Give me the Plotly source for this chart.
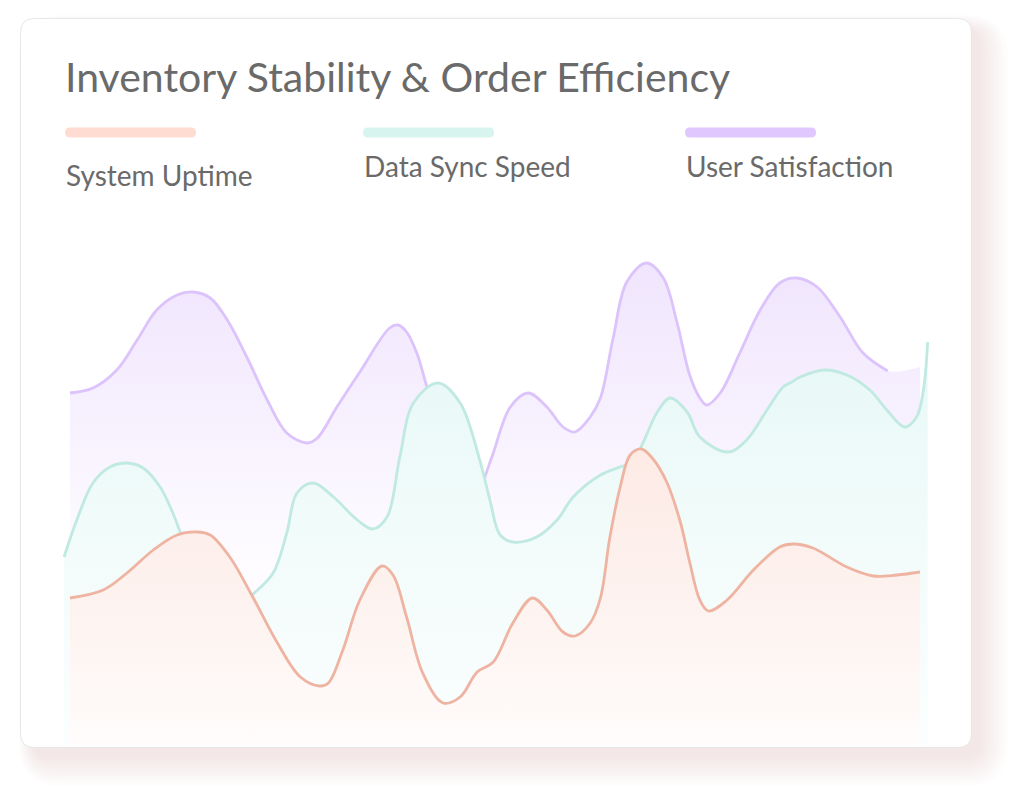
import plotly.graph_objects as go

W, H = 1015, 792

# ---------------- data ----------------
title_text = "Inventory Stability & Order Efficiency"
series_names = ["System Uptime", "Data Sync Speed", "User Satisfaction"]

uptime_x = [0, 3.9, 6.7, 9.8, 12.6, 14.9, 16.5, 18.8, 21.5, 24.4, 27.1, 29.4, 30.4, 32.1, 34.1,
            36.7, 38.0, 39.6, 41.5, 43.9, 45.9, 47.9, 49.8, 52.1, 54.4, 56.1, 58.0, 59.4, 61.2,
            62.4, 63.5, 64.7, 65.9, 67.2, 68.5, 70.2, 71.8, 72.9, 74.1, 75.1, 77.3, 80.4, 83.5,
            85.1, 87.4, 91.4, 94.5, 97.3, 100]
uptime_y = [29.4, 31.0, 34.4, 39.0, 42.0, 42.6, 42.0, 37.6, 29.6, 20.4, 13.6, 11.8, 12.4, 19.0, 29.0,
            35.8, 34.0, 25.6, 14.4, 8.4, 9.6, 14.6, 16.6, 24.4, 29.4, 27.0, 22.6, 21.8, 24.4,
            29.4, 41.4, 51.4, 58.0, 59.2, 57.4, 52.6, 44.6, 36.6, 29.0, 26.8, 29.0, 35.0, 39.6,
            40.2, 39.4, 35.6, 33.8, 34.0, 34.6]

sync_x = [-0.7, 0.8, 2.7, 4.7, 6.7, 8.6, 10.6, 12.1, 13.2, 15.3, 17.6, 19.8, 21.8, 23.9, 25.5,
          26.7, 28.6, 31.0, 33.8, 35.6, 37.3, 38.8, 40.4, 43.3, 45.9, 48.2, 49.4, 50.6, 52.1,
          54.9, 57.3, 59.2, 62.4, 64.7, 66.2, 67.4, 69.1, 70.6, 72.6, 74.1, 77.4, 79.6, 82.0,
          83.9, 84.9, 85.9, 88.8, 91.4, 94.1, 96.1, 98.2, 99.6, 100.4, 100.9]
sync_y = [37.6, 45.0, 52.4, 55.6, 56.4, 55.4, 51.6, 46.4, 41.6, 34.0, 29.0, 28.0, 30.6, 34.4, 42.4,
          50.4, 52.4, 49.6, 45.0, 43.2, 45.6, 57.6, 68.4, 72.4, 68.4, 57.0, 49.0, 42.0, 40.6,
          41.6, 45.0, 49.6, 54.0, 55.6, 56.6, 60.4, 66.6, 69.4, 66.6, 61.6, 58.6, 61.0, 67.0,
          71.6, 72.6, 73.6, 75.0, 74.0, 71.0, 67.0, 63.6, 65.6, 71.0, 80.6]

satis_x = [0, 2.7, 5.5, 7.9, 10.2, 12.6, 14.5, 16.5, 18.5, 20.8, 23.2, 25.5, 27.9, 29.1, 31.4,
           34.1, 37.6, 38.6, 39.6, 40.8, 42.0, 44.1, 46.5, 48.0, 48.8, 49.8, 51.8, 53.9, 56.1,
           58.0, 59.4, 61.2, 62.4, 63.9, 65.5, 67.8, 69.8, 71.4, 72.9, 74.1, 74.9, 76.5, 78.8,
           81.2, 83.5, 85.5, 87.9, 90.6, 93.3, 96.2, 100]
satis_y = [70.4, 71.4, 75.0, 81.0, 87.0, 90.0, 90.6, 89.4, 85.0, 77.6, 69.0, 62.4, 60.4, 61.4, 67.6,
           74.6, 83.4, 84.0, 82.6, 78.4, 71.6, 61.0, 51.0, 50.0, 53.6, 58.4, 67.6, 70.4, 67.6,
           63.6, 62.6, 65.6, 69.4, 81.4, 92.6, 96.4, 93.4, 84.6, 74.0, 69.4, 68.0, 70.4, 78.4,
           87.0, 92.4, 93.4, 91.6, 85.6, 78.4, 74.8, 75.6]

line_colors = ["#efb3a1", "#bfe9e1", "#dcc3fb"]
swatch_colors = ["#ffdcd2", "#d8f4ef", "#e0c7fd"]
fill_scales = [
    [[0, "#fffcfb"], [0.45, "#fdf3f0"], [1, "#fdeae5"]],
    [[0, "#fafefe"], [0.45, "#f3fcfb"], [1, "#e7f8f6"]],
    [[0, "#ffffff"], [0.4, "#fdfbff"], [1, "#f0e5fd"]],
]

# ---------------- helpers ----------------
def px(x):
    return x / W

def py(y):
    return 1 - y / H

def rrect(x0, y0, x1, y1, r):
    pts = [
        f"M {px(x0 + r)},{py(y0)}",
        f"L {px(x1 - r)},{py(y0)}",
        f"Q {px(x1)},{py(y0)} {px(x1)},{py(y0 + r)}",
        f"L {px(x1)},{py(y1 - r)}",
        f"Q {px(x1)},{py(y1)} {px(x1 - r)},{py(y1)}",
        f"L {px(x0 + r)},{py(y1)}",
        f"Q {px(x0)},{py(y1)} {px(x0)},{py(y1 - r)}",
        f"L {px(x0)},{py(y0 + r)}",
        f"Q {px(x0)},{py(y0)} {px(x0 + r)},{py(y0)}",
        "Z",
    ]
    return " ".join(pts)

fig = go.Figure()

datasets = [
    (uptime_x, uptime_y),
    (sync_x, sync_y),
    (satis_x, satis_y),
]

# draw order: satisfaction (back), sync, uptime (front)
for idx in [2, 1, 0]:
    xs, ys = datasets[idx]
    fig.add_trace(go.Scatter(
        x=xs, y=ys, mode="lines", fill="tozeroy",
        line=dict(width=0, shape="spline", smoothing=1, color=line_colors[idx]),
        fillgradient=dict(type="vertical", colorscale=fill_scales[idx], start=0, stop=max(ys)),
        hoverinfo="skip", showlegend=False,
    ))
    lx, ly = (xs[:-1], ys[:-1]) if idx == 2 else (xs, ys)
    fig.add_trace(go.Scatter(
        x=lx, y=ly, mode="lines",
        line=dict(width=2.8, shape="spline", smoothing=1, color=line_colors[idx]),
        hoverinfo="skip", showlegend=False, name=series_names[idx],
    ))

shapes = []
# card shadow (soft, warm, toward bottom-right)
for i in range(12):
    g = 2 + i * 2.6
    shapes.append(dict(
        type="path", xref="paper", yref="paper", layer="below",
        path=rrect(20 + 14 - g * 0.5, 18 + 12 - g * 0.5, 972 + 6 + g, 748 + 8 + g, 14 + g),
        fillcolor="rgba(215,175,155,0.025)", line=dict(width=0),
    ))
# card
shapes.append(dict(
    type="path", xref="paper", yref="paper", layer="below",
    path=rrect(20.5, 18.5, 971.5, 747.5, 14),
    fillcolor="#ffffff", line=dict(color="#e6e7e9", width=1),
))
# legend swatches
swatch_x = [65, 363, 685]
for i in range(3):
    shapes.append(dict(
        type="path", xref="paper", yref="paper", layer="above",
        path=rrect(swatch_x[i], 127.5, swatch_x[i] + 131, 137.5, 5),
        fillcolor=swatch_colors[i], line=dict(width=0),
    ))

annotations = [dict(
    text=title_text, xref="paper", yref="paper", x=px(63), y=py(77),
    xanchor="left", yanchor="middle", showarrow=False,
    font=dict(family="Lato", size=41, color="#6a6a6a"),
)]
legend_text_y = [175, 166, 166]
for i in range(3):
    annotations.append(dict(
        text=series_names[i], xref="paper", yref="paper", x=px(swatch_x[i] - 1), y=py(legend_text_y[i]),
        xanchor="left", yanchor="middle", showarrow=False,
        font=dict(family="Lato", size=28, color="#6a6a6a"),
    ))

fig.update_layout(
    width=W, height=H, autosize=False,
    margin=dict(l=0, r=0, t=0, b=0),
    paper_bgcolor="#ffffff", plot_bgcolor="rgba(0,0,0,0)",
    shapes=shapes, annotations=annotations,
    xaxis=dict(range=[-70 / 8.5, (W - 70) / 8.5], domain=[0, 1], visible=False, fixedrange=True),
    yaxis=dict(range=[0, 100], domain=[(H - 745) / H, (H - 245) / H], visible=False, fixedrange=True),
    showlegend=False,
)

fig.write_html("out.html")
